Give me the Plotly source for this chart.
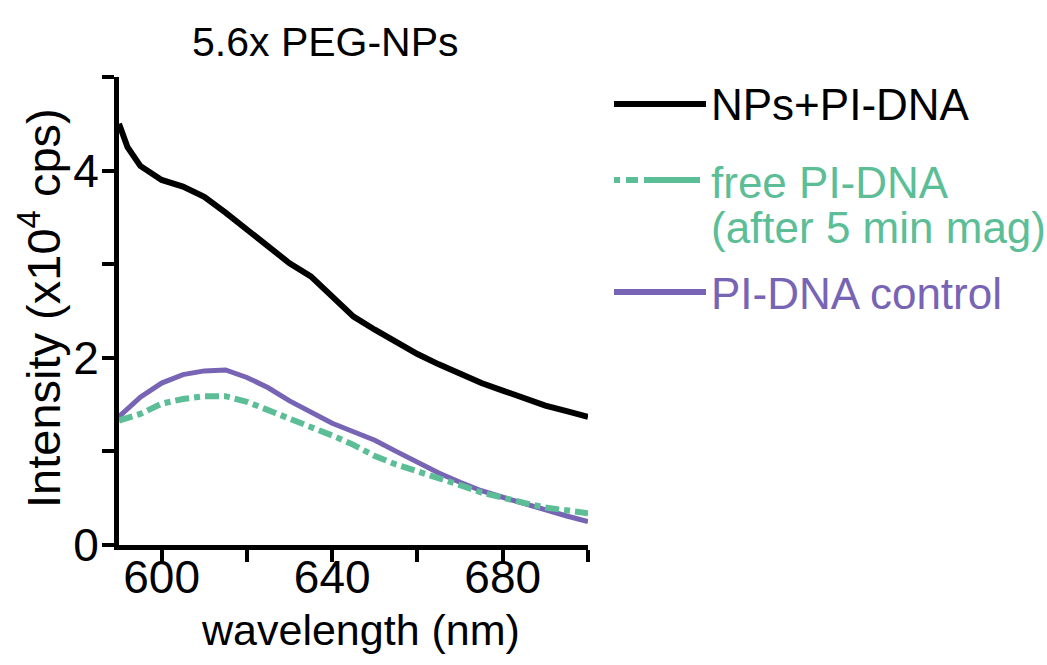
import plotly.graph_objects as go

# Emission spectra, intensity in units of 10^4 cps
wavelength = [590, 592, 595, 600, 605, 610, 615, 620, 625, 630, 635, 640,
              645, 650, 655, 660, 665, 670, 675, 680, 685, 690, 695, 700]
nps_pi_dna = [4.50, 4.25, 4.05, 3.90, 3.83, 3.72, 3.55, 3.37, 3.17, 3.01, 2.87, 2.66,
              2.44, 2.30, 2.17, 2.04, 1.93, 1.83, 1.73, 1.65, 1.57, 1.49, 1.43, 1.37]
free_pi_dna = [1.33, 1.36, 1.40, 1.51, 1.56, 1.59, 1.59, 1.53, 1.44, 1.36, 1.27, 1.17,
               1.07, 0.95, 0.86, 0.79, 0.71, 0.64, 0.56, 0.50, 0.45, 0.40, 0.37, 0.34]
pi_dna_control = [1.37, 1.45, 1.58, 1.73, 1.82, 1.86, 1.87, 1.79, 1.68, 1.54, 1.42, 1.30,
                  1.21, 1.12, 1.00, 0.88, 0.77, 0.67, 0.58, 0.51, 0.44, 0.37, 0.31, 0.25]

x_major_ticks = [600, 640, 680]
x_minor_ticks = [620, 660, 700]
y_major_ticks = [0, 2, 4]
y_minor_ticks = [1, 3, 5]

BLACK = "#000000"
GREEN = "#5cbe96"
PURPLE = "#7864b4"
FONT = "Liberation Sans, Arial, sans-serif"

W, H = 1047, 665
L, R, T, B = 119, 459, 77, 120

fig = go.Figure()
fig.add_trace(go.Scatter(x=wavelength, y=pi_dna_control, mode="lines",
                         line=dict(color=PURPLE, width=5), showlegend=False))
fig.add_trace(go.Scatter(x=wavelength, y=free_pi_dna, mode="lines",
                         line=dict(color=GREEN, width=6, dash="14px,5px,6px,5px"),
                         showlegend=False))
fig.add_trace(go.Scatter(x=wavelength, y=nps_pi_dna, mode="lines",
                         line=dict(color=BLACK, width=6), showlegend=False))


def px_x(p):
    return (p - L) / (W - L - R)


def px_y(p):
    return (H - B - p) / (H - T - B)


# legend keys and labels, placed to the right of the plot
shapes = []
annotations = []
legend_keys = [
    (104, [(614, 706)], BLACK),
    (180, [(614, 620), (626, 638), (644, 700)], GREEN),
    (292, [(614, 706)], PURPLE),
]
for ly, segs, col in legend_keys:
    for x0, x1 in segs:
        shapes.append(dict(type="line", xref="paper", yref="paper",
                           x0=px_x(x0), x1=px_x(x1), y0=px_y(ly), y1=px_y(ly),
                           line=dict(color=col, width=6)))

legend_labels = [
    ("NPs+PI-DNA", 104, BLACK),
    ("free PI-DNA", 182, GREEN),
    ("(after 5 min mag)", 228, GREEN),
    ("PI-DNA control", 293, PURPLE),
]
for label, ty, col in legend_labels:
    annotations.append(dict(text=label, xref="paper", yref="paper",
                            x=px_x(709), y=px_y(ty), xanchor="left", yanchor="middle",
                            showarrow=False,
                            font=dict(family=FONT, size=44, color=col)))

annotations.append(dict(text="5.6x PEG-NPs", xref="paper", yref="paper",
                        x=px_x(190), y=px_y(42), xanchor="left", yanchor="middle",
                        showarrow=False, font=dict(family=FONT, size=41, color="black")))
annotations.append(dict(text="Intensity (x10<sup>4</sup> cps)", xref="paper", yref="paper",
                        x=px_x(40), y=px_y(308), xanchor="center", yanchor="middle",
                        textangle=-90, showarrow=False,
                        font=dict(family=FONT, size=47, color="black")))
annotations.append(dict(text="wavelength (nm)", xref="paper", yref="paper",
                        x=px_x(360), y=px_y(630), xanchor="center", yanchor="middle",
                        showarrow=False, font=dict(family=FONT, size=43, color="black")))

axis_common = dict(showline=True, linecolor="black", linewidth=5, ticks="outside",
                   ticklen=12, tickwidth=4, tickcolor="black", showgrid=False,
                   zeroline=False, tickfont=dict(family=FONT, size=46, color="black"))

fig.update_layout(
    width=W, height=H,
    margin=dict(l=L, r=R, t=T, b=B),
    paper_bgcolor="white", plot_bgcolor="white",
    shapes=shapes, annotations=annotations,
    xaxis=dict(range=[590, 700], tickmode="array", tickvals=x_major_ticks,
               ticklabelstandoff=-24,
               minor=dict(tickmode="array", tickvals=x_minor_ticks, ticks="outside",
                          ticklen=12, tickwidth=4, tickcolor="black", showgrid=False),
               **axis_common),
    yaxis=dict(range=[0, 5], tickmode="array", tickvals=y_major_ticks,
               ticklabelstandoff=-6,
               minor=dict(tickmode="array", tickvals=y_minor_ticks, ticks="outside",
                          ticklen=12, tickwidth=4, tickcolor="black", showgrid=False),
               **axis_common),
)

fig.write_html("out.html")
